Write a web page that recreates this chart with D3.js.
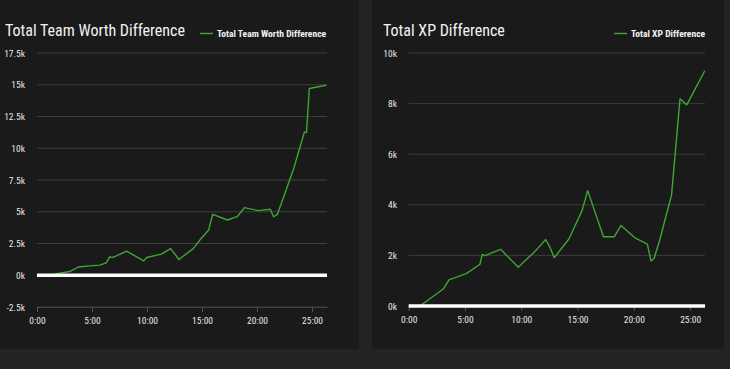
<!DOCTYPE html>
<html><head><meta charset="utf-8">
<script src="https://cdn.jsdelivr.net/npm/d3@7"></script>
<style>
html,body{margin:0;padding:0;background:#232323;}
svg{display:block;}
text{font-family:"Liberation Sans Narrow","Roboto Condensed","DejaVu Sans Condensed",sans-serif;}
</style></head><body>
<svg id="c" width="730" height="369"></svg>
<script>
// Time in minutes
const worthTimes = [0, 1.5, 1.8, 3.0, 3.75, 4.8, 5.7, 6.3, 6.6, 6.9, 8.15, 9.7, 9.97, 11.3, 12.15, 12.9, 14.2, 14.8, 15.6, 15.97, 17.3, 18.2, 18.85, 20.1, 21.2, 21.5, 21.85, 23.3, 24.3, 24.5, 24.75, 26.3];
const worthValues = [0, 40, 130, 300, 650, 740, 800, 980, 1450, 1400, 1900, 1130, 1400, 1660, 2100, 1240, 2100, 2770, 3560, 4800, 4350, 4610, 5330, 5090, 5200, 4610, 4800, 8300, 11260, 11260, 14700, 14960];
const xpTimes = [0, 1.0, 3.07, 3.58, 5.15, 6.33, 6.54, 6.77, 8.17, 9.73, 11.2, 12.17, 12.55, 12.93, 14.23, 15.4, 15.9, 17.3, 18.26, 18.85, 20.15, 21.2, 21.52, 21.8, 22.3, 23.35, 24.1, 24.7, 26.3];
const xpValues = [0, 0, 670, 1030, 1290, 1650, 2040, 1990, 2240, 1530, 2150, 2630, 2320, 1910, 2650, 3770, 4560, 2740, 2740, 3180, 2680, 2450, 1780, 1890, 2610, 4390, 8190, 7950, 9300];
const timeTicks = [0, 5, 10, 15, 20, 25];
const worthTicks = [-2500, 0, 2500, 5000, 7500, 10000, 12500, 15000, 17500];
const xpTicks = [0, 2000, 4000, 6000, 8000, 10000];
const titles = ["Total Team Worth Difference", "Total XP Difference"];

const svg = d3.select("#c");
const lineColor = "#3fa535";
const fmtTime = m => Math.floor(m) + ":" + String(Math.round((m % 1) * 60)).padStart(2, "0");
const fmtK = v => (v / 1000) + "k";

function panel(opt) {
  const g = svg.append("g");
  g.append("rect").attr("x", opt.px).attr("y", 0).attr("width", opt.pw).attr("height", 349).attr("fill", "#1a1a1a");
  const x = d3.scaleLinear().domain([0, opt.xmax]).range([opt.x0, opt.x1]);
  const y = d3.scaleLinear().domain(opt.ydom).range([opt.y0, opt.y1]);
  g.selectAll(".grid").data(opt.yticks).join("line")
    .attr("x1", opt.x0).attr("x2", opt.x1)
    .attr("y1", d => y(d)).attr("y2", d => y(d))
    .attr("stroke", "#3c3c3c").attr("stroke-width", 1);
  g.selectAll(".yl").data(opt.yticks).join("text")
    .attr("x", opt.ylx).attr("y", d => y(d) + 3.5)
    .attr("text-anchor", "end").attr("fill", "#e6e6e6").attr("font-size", 9.5)
    .text(fmtK);
  const xa = d3.axisBottom(x).tickValues(timeTicks).tickFormat(fmtTime).tickSize(5).tickSizeOuter(0);
  const ax = g.append("g").attr("transform", `translate(0,${opt.y0})`).call(xa);
  ax.select(".domain").attr("stroke", "#444");
  ax.selectAll(".tick line").attr("stroke", "#555");
  ax.selectAll(".tick text").attr("fill", "#e6e6e6").attr("font-size", 9.5).attr("dy", "0.9em");
  const pts = opt.times.map((t, i) => [t, opt.values[i]]);
  g.append("path").datum(pts)
    .attr("d", d3.line().x(d => x(d[0])).y(d => y(d[1])))
    .attr("fill", "none").attr("stroke", lineColor).attr("stroke-width", 1.4)
    .attr("stroke-linejoin", "round");
  g.append("line").attr("x1", opt.x0).attr("x2", opt.x1).attr("y1", y(0)).attr("y2", y(0))
    .attr("stroke", "#ffffff").attr("stroke-width", 3.5);
  g.append("text").attr("x", opt.tx).attr("y", 36).attr("fill", "#f2f2f2").attr("font-size", 16)
    .text(opt.title);
  g.append("line").attr("x1", opt.lx).attr("x2", opt.lx + 13).attr("y1", 33.5).attr("y2", 33.5)
    .attr("stroke", "#4d9a43").attr("stroke-width", 1.5);
  g.append("text").attr("x", opt.lx + 17).attr("y", 37).attr("fill", "#f2f2f2")
    .attr("font-size", 9.6).attr("font-weight", "bold").text(opt.title);
}

panel({px: 0, pw: 359, x0: 37, x1: 327, xmax: 26.36, ydom: [-2500, 17500], y0: 307, y1: 53,
  yticks: worthTicks, ylx: 25, times: worthTimes, values: worthValues, title: titles[0], tx: 5, lx: 200});
panel({px: 372, pw: 352, x0: 408.7, x1: 705, xmax: 26.32, ydom: [0, 10000], y0: 306, y1: 53,
  yticks: xpTicks, ylx: 397, times: xpTimes, values: xpValues, title: titles[1], tx: 383, lx: 614});
</script>
</body></html>
